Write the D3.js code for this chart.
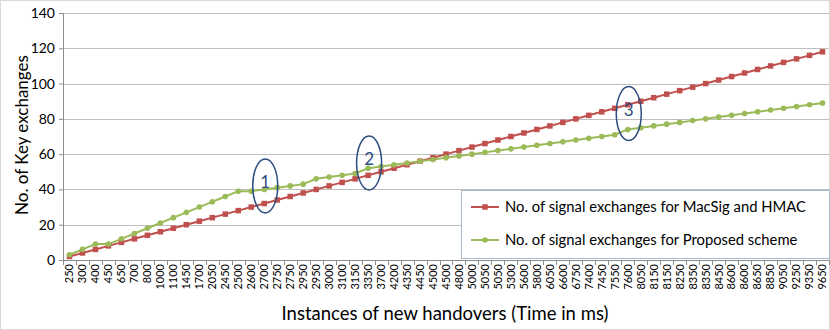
<!DOCTYPE html>
<html>
<head>
<meta charset="utf-8">
<script src="https://cdn.jsdelivr.net/npm/d3@7/dist/d3.min.js"></script>
<style>
  body { margin: 0; background: #fff; }
  text { font-family: Lato, 'Open Sans', sans-serif; fill: #000; }
</style>
</head>
<body>
<svg id="chart"></svg>
<script>
var categories = ['250', '300', '400', '450', '650', '700', '800', '1000', '1100', '1450',
  '1700', '2050', '2450', '2500', '2600', '2700', '2750', '2750', '2950', '2950',
  '3000', '3100', '3150', '3350', '3700', '4200', '4350', '4450', '4500', '4500',
  '4800', '5000', '5050', '5050', '5300', '5600', '5800', '6050', '6600', '6750',
  '7400', '7450', '7550', '7600', '8050', '8150', '8150', '8250', '8350', '8350',
  '8450', '8600', '8600', '8650', '8850', '9050', '9250', '9350', '9650'];

var macsig = [2, 4, 6, 8, 10, 12, 14, 16, 18, 20,
  22, 24, 26, 28, 30, 32, 34, 36, 38, 40,
  42, 44, 46, 48, 50, 52, 54, 56, 58, 60,
  62, 64, 66, 68, 70, 72, 74, 76, 78, 80,
  82, 84, 86, 88, 90, 92, 94, 96, 98, 100,
  102, 104, 106, 108, 110, 112, 114, 116, 118];

var proposed = [3, 6, 9, 9, 12, 15, 18, 21, 24, 27,
  30, 33, 36, 39, 39, 40, 41, 42, 43, 46,
  47, 48, 49, 52, 53, 54, 55, 56, 57, 58,
  59, 60, 61, 62, 63, 64, 65, 66, 67, 68,
  69, 70, 71, 74, 75, 76, 77, 78, 79, 80,
  81, 82, 83, 84, 85, 86, 87, 88, 89];

var yTicks = [0, 20, 40, 60, 80, 100, 120, 140];

var seriesNames = ['No. of signal exchanges for MacSig and HMAC',
  'No. of signal exchanges for Proposed scheme'];

// circled spots: category index, value, label
var callouts = [
  { i: 15, v: 42, label: '1' },
  { i: 23, v: 55, label: '2' },
  { i: 43, v: 83, label: '3' }
];

var size = { width: 830, height: 330, margin: { top: 13, right: 1, bottom: 70, left: 63 } };
var margin = size.margin;
var width = size.width - margin.left - margin.right;
var height = size.height - margin.top - margin.bottom;

var svg = d3.select('#chart')
  .attr('width', size.width)
  .attr('height', size.height);

svg.append('rect')
  .attr('x', 0.5).attr('y', 0.5)
  .attr('width', size.width - 1).attr('height', size.height - 1)
  .attr('fill', '#fff').attr('stroke', '#d9d9d9');

var chart = svg.append('g')
  .attr('transform', `translate(${ margin.left }, ${ margin.top })`);

var x = d3.scaleBand()
  .domain(d3.range(categories.length))
  .range([0, width]);

var y = d3.scaleLinear()
  .domain([0, 140])
  .range([height, 0]);

var cx = i => x(i) + x.bandwidth() / 2;

// gridlines
chart.append('g')
  .selectAll('line')
  .data(yTicks.slice(1))
  .enter().append('line')
  .attr('x1', 0).attr('x2', width)
  .attr('y1', d => Math.round(y(d)) + 0.5)
  .attr('y2', d => Math.round(y(d)) + 0.5)
  .attr('stroke', '#bfbfbf');

// y axis
var yAxis = chart.append('g')
  .call(d3.axisLeft(y).tickValues(yTicks).tickSize(4).tickPadding(4));
yAxis.select('.domain').attr('stroke', '#8c8c8c');
yAxis.selectAll('.tick line').attr('stroke', '#8c8c8c');
yAxis.selectAll('text').attr('font-size', '14px').style('font-family', 'Lato, sans-serif');

// x axis
var xAxis = chart.append('g')
  .attr('transform', `translate(0, ${ height })`)
  .call(d3.axisBottom(x).tickSize(0).tickFormat(i => categories[i]));
xAxis.select('.domain').attr('stroke', '#8c8c8c');
xAxis.selectAll('text')
  .attr('transform', 'rotate(-90)')
  .attr('text-anchor', 'end')
  .attr('x', -4)
  .attr('y', 0)
  .attr('dy', '0.35em')
  .attr('font-size', '11px')
  .style('font-family', 'Lato, sans-serif');

chart.append('g')
  .selectAll('line')
  .data(d3.range(categories.length + 1))
  .enter().append('line')
  .attr('x1', d => Math.round(d < categories.length ? x(d) : width) + 0.5)
  .attr('x2', d => Math.round(d < categories.length ? x(d) : width) + 0.5)
  .attr('y1', height).attr('y2', height + 5)
  .attr('stroke', '#8c8c8c');

// axis titles
svg.append('text')
  .attr('transform', 'translate(22, 135) rotate(-90)')
  .attr('text-anchor', 'middle')
  .attr('dy', '0.35em')
  .attr('font-size', '17px')
  .text('No. of Key exchanges');

svg.append('text')
  .attr('x', 445)
  .attr('y', 320)
  .attr('text-anchor', 'middle')
  .attr('font-size', '18.5px')
  .text('Instances of new handovers (Time in ms)');

// lines
var colors = ['#c0504d', '#9bbb59'];
var line = d3.line()
  .x((d, i) => cx(i))
  .y(d => y(d));

[macsig, proposed].forEach((data, k) => {
  chart.append('path')
    .datum(data)
    .attr('fill', 'none')
    .attr('stroke', colors[k])
    .attr('stroke-width', 2)
    .attr('d', line);
});

chart.selectAll('.sq')
  .data(macsig)
  .enter().append('rect')
  .attr('class', 'sq')
  .attr('x', (d, i) => cx(i) - 2.75)
  .attr('y', d => y(d) - 2.75)
  .attr('width', 5.5).attr('height', 5.5)
  .attr('fill', colors[0]);

chart.selectAll('.dot')
  .data(proposed)
  .enter().append('circle')
  .attr('class', 'dot')
  .attr('cx', (d, i) => cx(i))
  .attr('cy', d => y(d))
  .attr('r', 2.8)
  .attr('fill', colors[1]);

// callout ellipses
var co = chart.selectAll('.callout')
  .data(callouts)
  .enter().append('g')
  .attr('class', 'callout')
  .attr('transform', d => `translate(${ cx(d.i) + 1 }, ${ y(d.v) })`);
co.append('ellipse')
  .attr('rx', 12.5).attr('ry', 27)
  .attr('fill', 'none')
  .attr('stroke', '#2c4d7e')
  .attr('stroke-width', 1.5);
co.append('text')
  .attr('text-anchor', 'middle')
  .attr('y', 2)
  .attr('font-size', '17px')
  .style('fill', '#2c4d7e')
  .text(d => d.label);

// legend
var legend = svg.append('g').attr('transform', 'translate(461, 190)');
legend.append('rect')
  .attr('x', 0.5).attr('y', 0.5)
  .attr('width', 368).attr('height', 68)
  .attr('fill', '#fff')
  .attr('stroke', '#a7b7cc');

seriesNames.forEach((name, k) => {
  var row = legend.append('g').attr('transform', `translate(0, ${ 17 + k * 33 })`);
  row.append('line')
    .attr('x1', 10).attr('x2', 38)
    .attr('stroke', colors[k]).attr('stroke-width', 2);
  if (k === 0) {
    row.append('rect').attr('x', 21.25).attr('y', -2.75).attr('width', 5.5).attr('height', 5.5).attr('fill', colors[k]);
  } else {
    row.append('circle').attr('cx', 24).attr('r', 2.8).attr('fill', colors[k]);
  }
  row.append('text')
    .attr('x', 44)
    .attr('dy', '0.35em')
    .attr('font-size', '14.8px')
    .text(name);
});
</script>
</body>
</html>
